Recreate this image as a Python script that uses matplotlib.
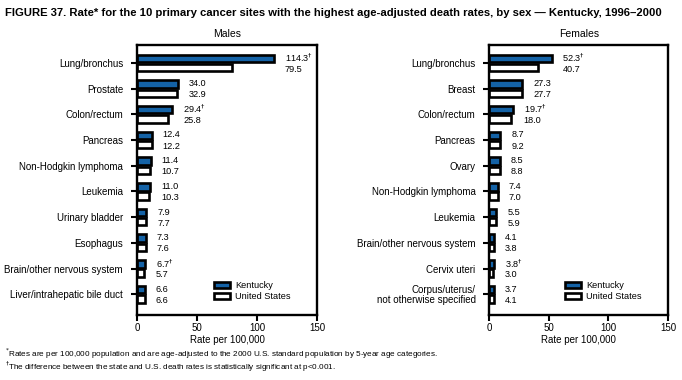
import numpy as np
import matplotlib
matplotlib.use('Agg')
import matplotlib.pyplot as plt
from matplotlib.patches import Patch

plt.rcParams['font.family'] = ['Liberation Sans', 'DejaVu Sans']

male_sites = ['Lung/bronchus', 'Prostate', 'Colon/rectum', 'Pancreas', 'Non-Hodgkin lymphoma',
              'Leukemia', 'Urinary bladder', 'Esophagus', 'Brain/other nervous system',
              'Liver/intrahepatic bile duct']
male_ky = [114.3, 34.0, 29.4, 12.4, 11.4, 11.0, 7.9, 7.3, 6.7, 6.6]
male_us = [79.5, 32.9, 25.8, 12.2, 10.7, 10.3, 7.7, 7.6, 5.7, 6.6]
male_sig = [True, False, True, False, False, False, False, False, True, False]

female_sites = ['Lung/bronchus', 'Breast', 'Colon/rectum', 'Pancreas', 'Ovary',
                'Non-Hodgkin lymphoma', 'Leukemia', 'Brain/other nervous system',
                'Cervix uteri', 'Corpus/uterus/\nnot otherwise specified']
female_ky = [52.3, 27.3, 19.7, 8.7, 8.5, 7.4, 5.5, 4.1, 3.8, 3.7]
female_us = [40.7, 27.7, 18.0, 9.2, 8.8, 7.0, 5.9, 3.8, 3.0, 4.1]
female_sig = [True, False, True, False, False, False, False, False, True, False]

blue = '#1462a6'

fig = plt.figure(figsize=(6.82, 3.8), dpi=100)
fig.text(0.008, 0.965, 'FIGURE 37. Rate* for the 10 primary cancer sites with the highest age-adjusted death rates, by sex \u2014 Kentucky, 1996\u20132000',
         fontsize=8.1, fontweight='bold', va='center')

def draw_panel(ax, title, sites, ky, us, sig):
    y = np.arange(len(sites))
    h = 0.29
    ax.barh(y - 0.18, ky, height=h, color=blue, edgecolor='black', linewidth=1.9)
    ax.barh(y + 0.18, us, height=h, color='white', edgecolor='black', linewidth=1.9)
    for i in range(len(sites)):
        x = max(ky[i], us[i]) + 9
        lab = '%.1f' % ky[i] + (r'$^{\dagger}$' if sig[i] else '')
        ax.text(x, y[i] - 0.2, lab, fontsize=6.6, va='center', ha='left')
        ax.text(x, y[i] + 0.24, '%.1f' % us[i], fontsize=6.6, va='center', ha='left')
    ax.set_yticks(y)
    ax.set_yticklabels(sites, fontsize=7, linespacing=1.0)
    ax.set_ylim(9.81, -0.7)
    ax.set_xlim(0, 150)
    ax.set_xticks([0, 50, 100, 150])
    ax.tick_params(axis='x', labelsize=7, width=1.5, length=4, direction='out', pad=2)
    ax.tick_params(axis='y', width=1.5, length=4, direction='out', pad=6)
    for s in ax.spines.values():
        s.set_linewidth(1.7)
    ax.set_xlabel('Rate per 100,000', fontsize=7, labelpad=1)
    ax.set_title(title, fontsize=7.5, pad=6)
    handles = [Patch(facecolor=blue, edgecolor='black', linewidth=1.9, label='Kentucky'),
               Patch(facecolor='white', edgecolor='black', linewidth=1.9, label='United States')]
    ax.legend(handles=handles, loc='lower right', bbox_to_anchor=(0.9, 0.02), frameon=False,
              fontsize=6.6, handlelength=1.7, handleheight=0.7, labelspacing=0.25, handletextpad=0.6)

ax1 = fig.add_axes([0.2009, 0.171, 0.264, 0.7105])
draw_panel(ax1, 'Males', male_sites, male_ky, male_us, male_sig)
ax2 = fig.add_axes([0.7177, 0.171, 0.2617, 0.7105])
draw_panel(ax2, 'Females', female_sites, female_ky, female_us, female_sig)

fig.text(0.008, 0.068, r'$^{*}$Rates are per 100,000 population and are age-adjusted to the 2000 U.S. standard population by 5-year age categories.',
         fontsize=5.9, va='center')
fig.text(0.008, 0.034, r'$^{\dagger}$The difference between the state and U.S. death rates is statistically significant at p<0.001.',
         fontsize=5.9, va='center')

fig.savefig('out.png', dpi=100)
